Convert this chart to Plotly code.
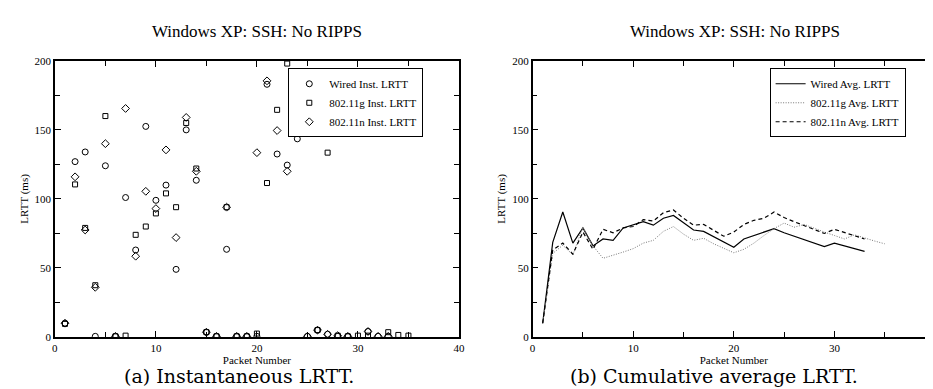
import plotly.graph_objects as go

# ---------------- data ----------------
packets_wired = list(range(1, 34))
packets_g = list(range(1, 36))
packets_n = list(range(1, 34))

wired_inst = [10, 127, 134, 0.5, 124, 0.5, 101, 63, 152.5, 99, 110, 49, 150, 113.5, 3.5,
              0.5, 63.5, 0.5, 0.5, 0.5, 183, 132.5, 124.5, 143.5, 0.5, 5, 2, 0.5, 0.5,
              153, 4, 0.5, 0.5]
g_inst = [9.5, 110.5, 79, 37.5, 160, 0.5, 1, 74, 80, 89.5, 104, 94, 155, 122, 3.5, 0.5,
          94, 0.5, 0.5, 2.5, 111.5, 164.5, 198, 192, 177, 5, 133.5, 1, 0.5, 1, 1, 157,
          3.5, 1.5, 1]
n_inst = [10, 116, 77.5, 36, 140, 0.5, 165.5, 58.5, 105.5, 93, 135.5, 72, 159, 120, 3.5,
          0.5, 94, 0.5, 0.5, 133.5, 185.5, 149.5, 120, 191, 0.5, 5, 2, 1, 0.5, 165, 4,
          0.5, 0.5]

wired_avg = [10, 68.5, 90.5, 68, 79, 66, 71, 70, 79, 81, 83.5, 81, 86, 88, 82.5, 77.5,
             76.5, 72.5, 68.5, 65, 71, 73.5, 76, 78.5, 75.5, 73, 70, 67.5, 65.5, 68, 66,
             64, 62]
g_avg = [10, 60.5, 66.5, 59.5, 79.5, 66, 57, 59, 61.5, 64, 68, 70, 76.5, 80, 74.5, 70,
         71.5, 67.5, 64, 61, 63.5, 68, 73.5, 78.5, 82.5, 79.5, 81.5, 78.5, 76, 73.5, 71,
         74, 71.5, 69.5, 67.5]
n_avg = [10, 63, 68, 60, 76, 63.5, 78, 75.5, 79, 80, 85, 84, 90, 92, 86, 81, 81.5, 77,
         73, 76, 81.5, 84.5, 86, 90.5, 86.5, 83.5, 80.5, 77.5, 75, 78, 75.5, 73.5, 71]

x_ticks = [0, 10, 20, 30, 40]
x_ticklabels_a = ["0", "10", "20", "30", "40"]
x_ticklabels_b = ["0", "10", "20", "30", ""]
y_ticks = [0, 50, 100, 150, 200]

title_text = "Windows XP: SSH: No RIPPS"
caption_a = "(a) Instantaneous LRTT."
caption_b = "(b) Cumulative average LRTT."
x_title = "Packet Number"
y_title = "LRTT (ms)"

# ---------------- figure ----------------
W, H = 933, 389
SERIF = "Liberation Serif"
CAPTION = "DejaVu Serif"
fig = go.Figure()

fig.add_trace(go.Scatter(x=packets_wired, y=wired_inst, mode="markers", name="Wired Inst. LRTT",
                         marker=dict(symbol="circle-open", size=6, color="black", line=dict(width=1)),
                         xaxis="x", yaxis="y", legend="legend"))
fig.add_trace(go.Scatter(x=packets_g, y=g_inst, mode="markers", name="802.11g Inst. LRTT",
                         marker=dict(symbol="square-open", size=5, color="black", line=dict(width=1)),
                         xaxis="x", yaxis="y", legend="legend"))
fig.add_trace(go.Scatter(x=packets_n, y=n_inst, mode="markers", name="802.11n Inst. LRTT",
                         marker=dict(symbol="diamond-open", size=6, color="black", line=dict(width=1)),
                         xaxis="x", yaxis="y", legend="legend"))

fig.add_trace(go.Scatter(x=packets_wired, y=wired_avg, mode="lines", name="Wired Avg. LRTT",
                         line=dict(color="black", width=1.2, dash="solid"),
                         xaxis="x2", yaxis="y2", legend="legend2"))
fig.add_trace(go.Scatter(x=packets_g, y=g_avg, mode="lines", name="802.11g Avg. LRTT",
                         line=dict(color="#777777", width=1, dash="1px,1.5px"),
                         xaxis="x2", yaxis="y2", legend="legend2"))
fig.add_trace(go.Scatter(x=packets_n, y=n_avg, mode="lines", name="802.11n Avg. LRTT",
                         line=dict(color="black", width=1.2, dash="4px,3px"),
                         xaxis="x2", yaxis="y2", legend="legend2"))

def px_x(p):
    return p / W

def px_y(p):
    return 1 - p / H

tick_font = dict(family=SERIF, size=11, color="black")
title_font = dict(family=SERIF, size=11, color="black")

def xaxis(domain, labels):
    return dict(domain=domain, range=[0, 40], tickvals=x_ticks, ticktext=labels,
                ticks="inside", ticklen=6, tickwidth=1, tickcolor="black",
                minor=dict(dtick=5, ticks="inside", ticklen=5, tickwidth=1, tickcolor="black"),
                showline=True, linewidth=1.5, linecolor="black", mirror="allticks",
                showgrid=False, zeroline=False, tickfont=tick_font,
                title=dict(text=x_title, font=title_font, standoff=2), fixedrange=True)

def yaxis(domain, anchor):
    return dict(domain=domain, anchor=anchor, range=[0, 200], tickvals=y_ticks,
                ticks="inside", ticklen=6, tickwidth=1, tickcolor="black",
                minor=dict(dtick=25, ticks="inside", ticklen=5, tickwidth=1, tickcolor="black"),
                showline=True, linewidth=1.5, linecolor="black", mirror="allticks",
                showgrid=False, zeroline=False, tickfont=tick_font,
                title=dict(text=y_title, font=title_font, standoff=4), fixedrange=True)

ydom = [px_y(333.3), px_y(48.3)]
legend_common = dict(xanchor="left", yanchor="top", bgcolor="white", bordercolor="black",
                     borderwidth=1, font=dict(family=SERIF, size=11, color="black"),
                     itemwidth=30, tracegroupgap=0)
fig.update_layout(
    width=W, height=H,
    margin=dict(l=0, r=0, t=0, b=0),
    paper_bgcolor="white", plot_bgcolor="white",
    xaxis=dict(xaxis([px_x(44.3), px_x(452.3)], x_ticklabels_a), anchor="y"),
    yaxis=yaxis(ydom, "x"),
    xaxis2=dict(xaxis([px_x(526.7), 1.0], x_ticklabels_b), anchor="y2"),
    yaxis2=yaxis(ydom, "x2"),
    legend=dict(legend_common, x=px_x(280), y=px_y(56)),
    legend2=dict(legend_common, x=px_x(766), y=px_y(56)),
    showlegend=True,
)

annos = [
    dict(text=title_text, x=px_x(248), y=px_y(18.5), font=dict(family=SERIF, size=17, color="black")),
    dict(text=title_text, x=px_x(731), y=px_y(18.5), font=dict(family=SERIF, size=17, color="black")),
    dict(text=caption_a, x=px_x(230), y=px_y(374), font=dict(family=CAPTION, size=19, color="black")),
    dict(text=caption_b, x=px_x(710), y=px_y(374), font=dict(family=CAPTION, size=19, color="black")),
]
for a in annos:
    a.update(xref="paper", yref="paper", xanchor="center", yanchor="middle", showarrow=False)
fig.update_layout(annotations=annos)

fig.write_html("out.html")
